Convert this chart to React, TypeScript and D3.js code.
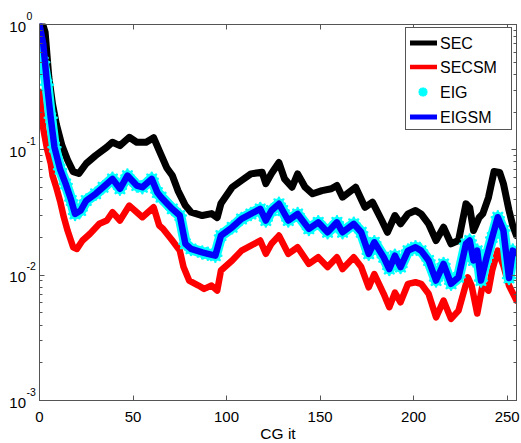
import React from 'react';
import * as d3 from 'd3';

// ---- data ----
const secIt = [0, 2, 3, 5, 7, 9, 12, 15, 18, 21, 25, 30, 36, 39, 43, 48, 52, 57, 61, 64, 68, 71, 74, 78, 81, 87, 92, 95, 97, 103, 108, 113, 119, 121, 124, 128, 131, 135, 138, 142, 146, 151, 156, 159, 162, 169, 174, 178, 183, 186, 190, 193, 197, 201, 204, 208, 212, 216, 220, 224, 228, 230, 232, 235, 237, 240, 243, 246, 248, 251, 253, 255];
const secVal = [1.0, 0.97, 0.87, 0.38, 0.23, 0.16, 0.108, 0.083, 0.067, 0.0647, 0.0778, 0.0901, 0.105, 0.115, 0.108, 0.126, 0.115, 0.115, 0.125, 0.0987, 0.072, 0.0623, 0.0473, 0.0359, 0.0318, 0.0299, 0.031, 0.0288, 0.0373, 0.0503, 0.0569, 0.0643, 0.0663, 0.0538, 0.0647, 0.0792, 0.0587, 0.0503, 0.0643, 0.0503, 0.0446, 0.0473, 0.0489, 0.0519, 0.0419, 0.0503, 0.0348, 0.0382, 0.0273, 0.022, 0.0299, 0.0257, 0.0308, 0.0328, 0.0308, 0.0257, 0.0189, 0.0241, 0.0178, 0.0189, 0.0371, 0.0346, 0.0227, 0.0288, 0.031, 0.0416, 0.0671, 0.066, 0.0538, 0.0328, 0.0249, 0.0207];

const secsmIt = [0, 2, 4, 6, 7, 9, 11, 13, 15, 18, 20, 23, 27, 32, 36, 39, 43, 48, 52, 55, 61, 64, 66, 71, 75, 77, 80, 85, 88, 92, 95, 97, 103, 108, 113, 118, 121, 124, 128, 133, 138, 144, 149, 154, 159, 162, 168, 172, 176, 179, 184, 187, 190, 193, 197, 201, 204, 208, 212, 216, 220, 224, 229, 231, 234, 237, 240, 242, 245, 248, 251, 253, 255];
const secsmVal = [0.29, 0.148, 0.102, 0.078, 0.062, 0.05, 0.039, 0.029, 0.0227, 0.0167, 0.0162, 0.0189, 0.0214, 0.0257, 0.0273, 0.0318, 0.0273, 0.0359, 0.0318, 0.029, 0.0348, 0.0249, 0.0235, 0.0189, 0.0157, 0.0116, 0.00906, 0.00826, 0.00777, 0.00826, 0.00753, 0.0109, 0.0131, 0.0157, 0.0172, 0.0189, 0.0148, 0.0178, 0.0207, 0.0148, 0.0167, 0.0123, 0.0139, 0.0116, 0.0139, 0.0112, 0.0139, 0.0116, 0.008, 0.0102, 0.0071, 0.00555, 0.00726, 0.00608, 0.00853, 0.00878, 0.00853, 0.0071, 0.00461, 0.00627, 0.00448, 0.00521, 0.0096, 0.00826, 0.00494, 0.00857, 0.00753, 0.0109, 0.0157, 0.0119, 0.00826, 0.0072, 0.00627];

const eigIt = [0, 2, 4, 6, 8, 11, 14, 17, 19, 22, 25, 30, 34, 39, 43, 47, 52, 55, 60, 63, 65, 71, 75, 78, 81, 87, 90, 94, 97, 103, 108, 113, 118, 121, 124, 128, 130, 133, 138, 144, 149, 154, 159, 162, 168, 172, 176, 179, 184, 187, 190, 193, 197, 201, 204, 208, 212, 216, 220, 224, 228, 230, 232, 234, 236, 239, 242, 245, 248, 251, 253, 255];
const eigVal = [0.62, 0.5, 0.33, 0.18, 0.105, 0.07, 0.0535, 0.0394, 0.0308, 0.0328, 0.0394, 0.0446, 0.0503, 0.0587, 0.0489, 0.0623, 0.0519, 0.0503, 0.0587, 0.0456, 0.0419, 0.0338, 0.0299, 0.0178, 0.0162, 0.0152, 0.0148, 0.0143, 0.0207, 0.0241, 0.0281, 0.0308, 0.0338, 0.0273, 0.0328, 0.0371, 0.0328, 0.0273, 0.0308, 0.0234, 0.0264, 0.022, 0.0264, 0.022, 0.0257, 0.022, 0.0148, 0.0183, 0.0139, 0.0112, 0.0143, 0.0116, 0.0157, 0.0167, 0.0157, 0.0131, 0.00906, 0.0123, 0.00853, 0.00962, 0.0178, 0.0189, 0.0131, 0.0157, 0.00906, 0.0138, 0.02, 0.029, 0.0227, 0.0095, 0.0157, 0.015];

const eigsmIt = [0, 2, 4, 6, 8, 11, 14, 17, 19, 22, 25, 30, 34, 39, 43, 47, 52, 55, 60, 63, 65, 71, 75, 78, 81, 87, 90, 94, 97, 103, 108, 113, 118, 121, 124, 128, 130, 133, 138, 144, 149, 154, 159, 162, 168, 172, 176, 179, 184, 187, 190, 193, 197, 201, 204, 208, 212, 216, 220, 224, 228, 230, 232, 234, 236, 239, 242, 245, 248, 251, 253, 255];
const eigsmVal = [1.0, 0.7, 0.34, 0.18, 0.105, 0.07, 0.0535, 0.0394, 0.0308, 0.0328, 0.0394, 0.0446, 0.0503, 0.0587, 0.0489, 0.0623, 0.0519, 0.0503, 0.0587, 0.0456, 0.0419, 0.0338, 0.0299, 0.0178, 0.0162, 0.0152, 0.0148, 0.0143, 0.0207, 0.0241, 0.0281, 0.0308, 0.0338, 0.0273, 0.0328, 0.0371, 0.0328, 0.0273, 0.0308, 0.0234, 0.0264, 0.022, 0.0264, 0.022, 0.0257, 0.022, 0.0148, 0.0183, 0.0139, 0.0112, 0.0143, 0.0116, 0.0157, 0.0167, 0.0157, 0.0131, 0.00906, 0.0123, 0.00853, 0.00962, 0.0178, 0.0189, 0.0131, 0.0157, 0.00906, 0.0138, 0.02, 0.029, 0.0227, 0.0095, 0.0157, 0.015];

const xTicks = [0, 50, 100, 150, 200, 250];
const yDecades = [-3, -2, -1, 0];
const legendLabels = ['SEC', 'SECSM', 'EIG', 'EIGSM'];
const xLabel = 'CG it';

const FONT = '"Liberation Sans", Arial, Helvetica, sans-serif';
const AXIS = '#555';

function star(cx: number, cy: number, r: number) {
  const k = r * 0.72;
  return `M${cx - r},${cy}L${cx + r},${cy}M${cx},${cy - r}L${cx},${cy + r}` +
    `M${cx - k},${cy - k}L${cx + k},${cy + k}M${cx - k},${cy + k}L${cx + k},${cy - k}`;
}

export default function App() {
  const W = 521, H = 443;
  const L = 39.5, R = 516.5, T = 24.5, B = 400.5;
  const x = d3.scaleLinear().domain([0, 255]).range([L, R]);
  const y = d3.scaleLog().domain([1e-3, 1]).range([B, T]);
  const line = d3.line<[number, number]>().x(d => x(d[0])).y(d => y(d[1]));
  const zip = (a: number[], b: number[]) => a.map((t, i) => [t, b[i]] as [number, number]);

  const sec = zip(secIt, secVal);
  const secsm = zip(secsmIt, secsmVal);
  const eig = zip(eigIt, eigVal);
  const eigsm = zip(eigsmIt, eigsmVal);

  const minor: number[] = [];
  for (let e = -3; e < 0; e++) for (let k = 2; k <= 9; k++) minor.push(k * Math.pow(10, e));

  const px = (v: number) => Math.round(v - 0.5) + 0.5;

  const lgX1 = 410, lgX2 = 437, lgY = [43, 67, 92, 117];

  return (
    <svg width={W} height={H} style={{ position: 'absolute', left: 0, top: 0, background: '#fff' }}
      fontFamily={FONT}>
      <rect x={0} y={0} width={W} height={H} fill="#fff" />
      <defs>
        <clipPath id="plot"><rect x={L} y={T - 1} width={R - L} height={B - T + 1} /></clipPath>
      </defs>
      <g clipPath="url(#plot)" fill="none" strokeLinejoin="round" strokeLinecap="round">
        <path d={line(sec) || ''} stroke="#000" strokeWidth={7} />
        <path d={line(secsm) || ''} stroke="#ff0000" strokeWidth={6.5} />
        <path d={line(eig) || ''} stroke="#00ffff" strokeWidth={11} />
        <path d={eig.map(d => star(x(d[0]), y(d[1]), 6)).join('')} stroke="#00ffff" strokeWidth={2.5} />
        <path d={line(eigsm) || ''} stroke="#0000ff" strokeWidth={6.5} />
      </g>
      {/* axes box */}
      <rect x={L} y={T} width={R - L} height={B - T} fill="none" stroke={AXIS} strokeWidth={1} />
      {/* x ticks */}
      {xTicks.map(t => (
        <g key={'x' + t}>
          <line x1={px(x(t))} x2={px(x(t))} y1={B} y2={B - 5} stroke={AXIS} />
          <line x1={px(x(t))} x2={px(x(t))} y1={T} y2={T + 5} stroke={AXIS} />
          <text x={x(t)} y={421.5} fontSize={15} textAnchor="middle" fill="#000">{t}</text>
        </g>
      ))}
      {/* y ticks */}
      {yDecades.map(e => {
        const yy = px(y(Math.pow(10, e)));
        return (
          <g key={'y' + e}>
            <line x1={L} x2={L + 5} y1={yy} y2={yy} stroke={AXIS} />
            <line x1={R} x2={R - 5} y1={yy} y2={yy} stroke={AXIS} />
            <text x={26} y={y(Math.pow(10, e)) + 7} fontSize={15} textAnchor="end" fill="#000">10</text>
            <text x={26.5} y={y(Math.pow(10, e)) - 5} fontSize={10.5} textAnchor="start" fill="#000">{String(e)}</text>
          </g>
        );
      })}
      {minor.map((v, i) => {
        const yy = px(y(v));
        return (
          <g key={'m' + i}>
            <line x1={L} x2={L + 3} y1={yy} y2={yy} stroke={AXIS} />
            <line x1={R} x2={R - 3} y1={yy} y2={yy} stroke={AXIS} />
          </g>
        );
      })}
      <text x={(L + R) / 2} y={439} fontSize={15.5} textAnchor="middle" fill="#000">{xLabel}</text>
      {/* legend */}
      <rect x={405.5} y={27.5} width={106} height={102} fill="#fff" stroke={AXIS} strokeWidth={1} />
      <line x1={lgX1} x2={lgX2} y1={lgY[0]} y2={lgY[0]} stroke="#000" strokeWidth={5} />
      <line x1={lgX1} x2={lgX2} y1={lgY[1]} y2={lgY[1]} stroke="#ff0000" strokeWidth={4.5} />
      <path d={star(423, lgY[2], 4.5)} stroke="#00ffff" strokeWidth={3} fill="none" />
      <line x1={lgX1} x2={lgX2} y1={lgY[3]} y2={lgY[3]} stroke="#0000ff" strokeWidth={5} />
      {legendLabels.map((s, i) => (
        <text key={s} x={440} y={lgY[i] + 6} fontSize={16} fill="#000">{s}</text>
      ))}
    </svg>
  );
}
